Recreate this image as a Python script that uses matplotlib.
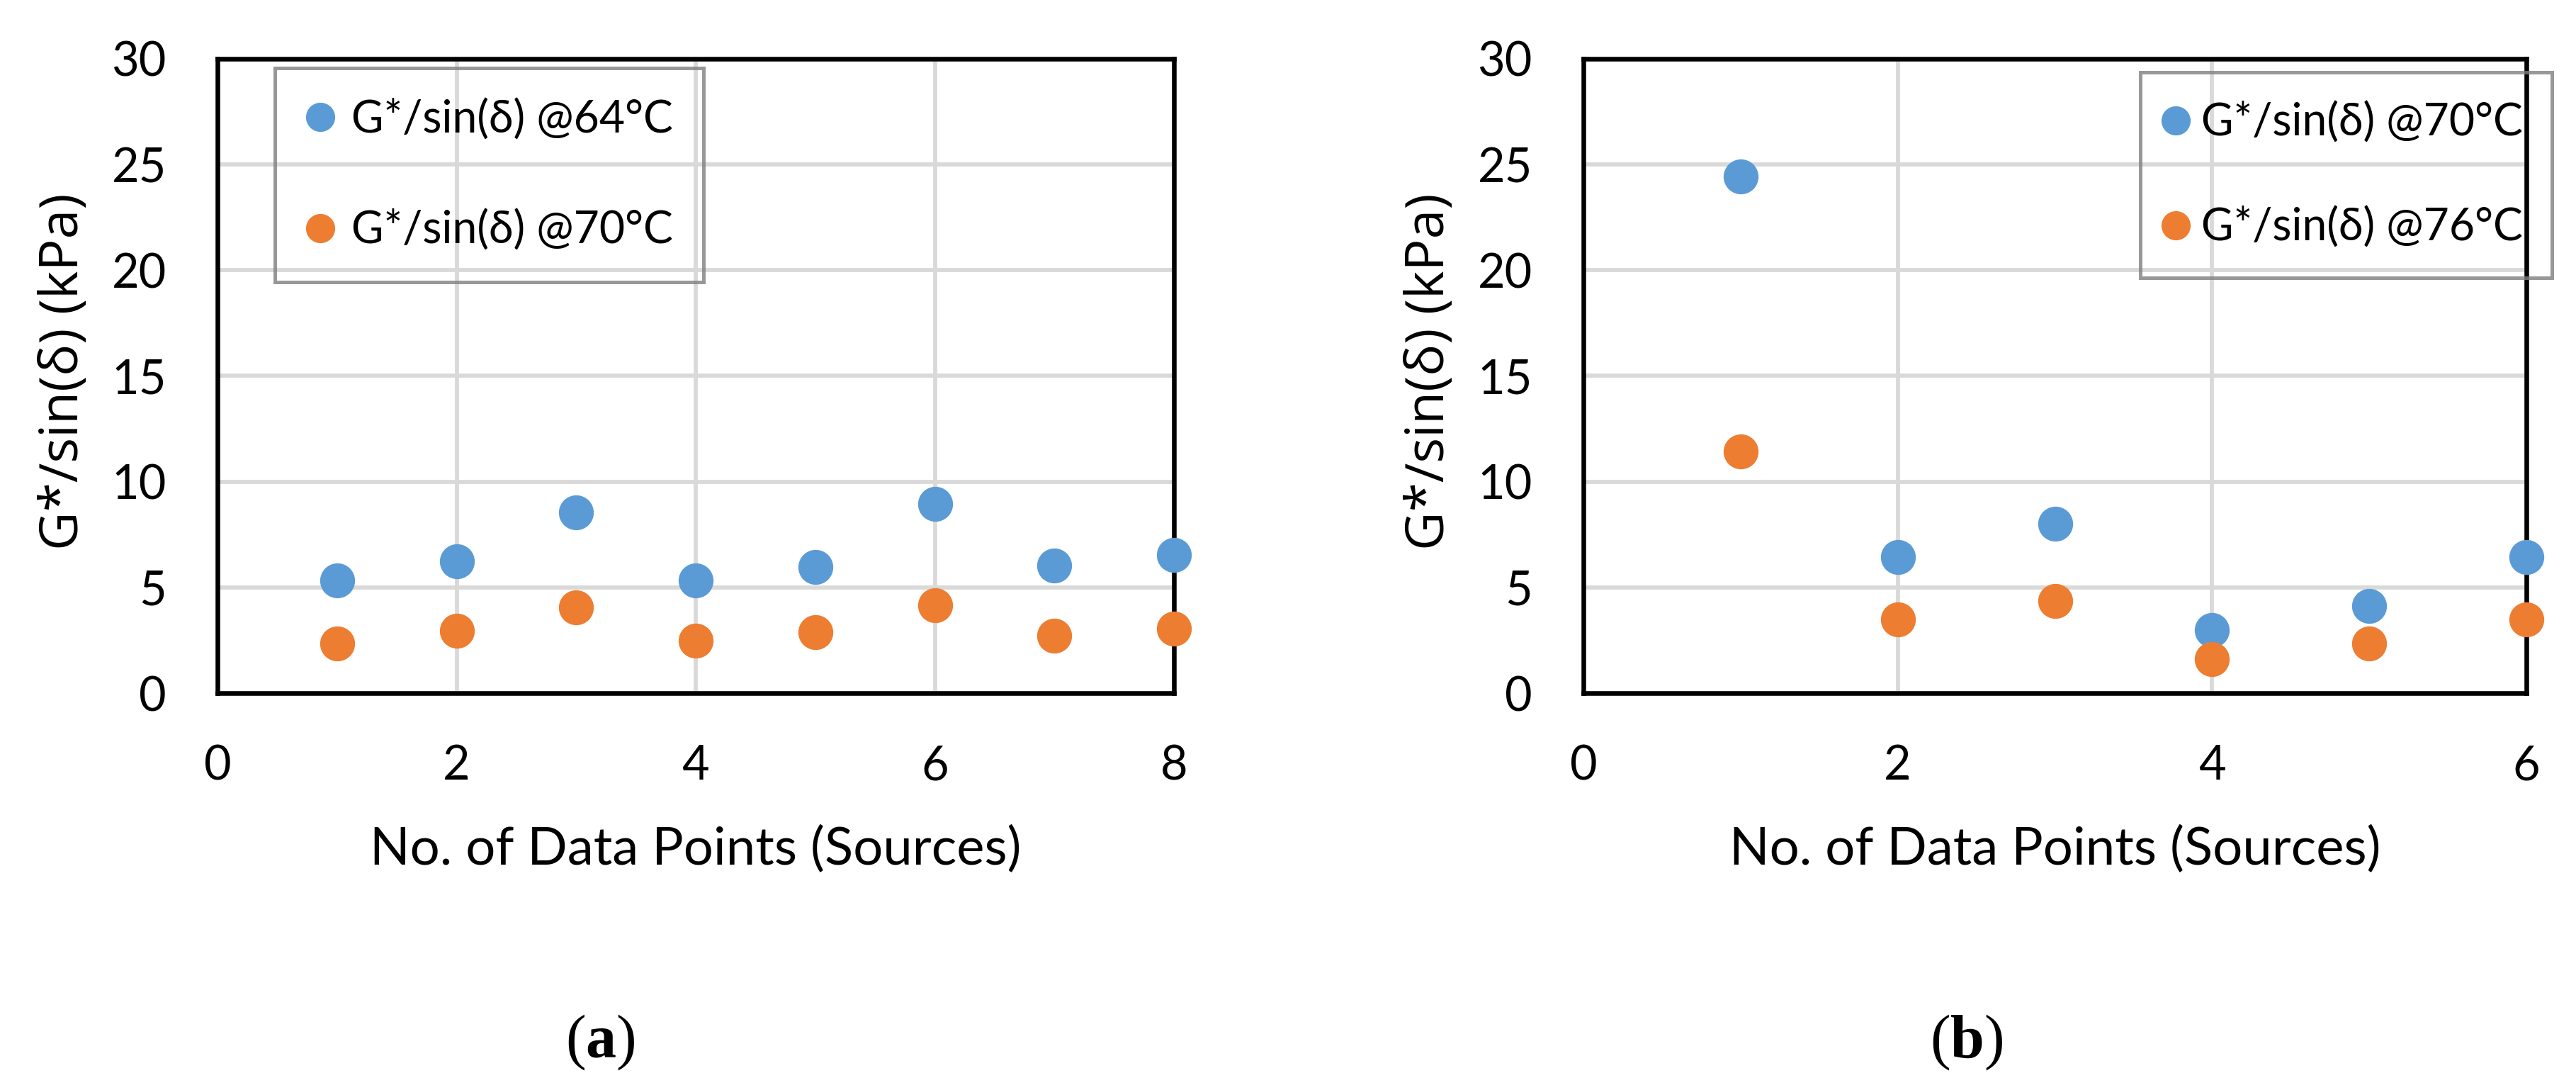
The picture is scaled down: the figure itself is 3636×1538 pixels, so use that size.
import matplotlib
matplotlib.use("Agg")
import matplotlib.pyplot as plt

# ---- data ----
x_a = [1, 2, 3, 4, 5, 6, 7, 8]
a_64 = [5.32, 6.24, 8.56, 5.32, 5.98, 8.94, 6.05, 6.52]
a_70 = [2.35, 2.96, 4.05, 2.47, 2.89, 4.16, 2.73, 3.06]

x_b = [1, 2, 3, 4, 5, 6]
b_70 = [24.42, 6.45, 8.02, 2.99, 4.12, 6.45]
b_76 = [11.44, 3.48, 4.35, 1.60, 2.35, 3.48]

labels_a = ["G*/sin(δ) @64°C", "G*/sin(δ) @70°C"]
labels_b = ["G*/sin(δ) @70°C", "G*/sin(δ) @76°C"]
xticks_a = [0, 2, 4, 6, 8]
xticks_b = [0, 2, 4, 6]
yticks = [0, 5, 10, 15, 20, 25, 30]
xlabel = "No. of Data Points (Sources)"
ylabel = "G*/sin(δ) (kPa)"
panel_a = r"($\mathbf{a}$)"
panel_b = r"($\mathbf{b}$)"

BLUE = "#5B9BD5"
ORANGE = "#ED7D31"
GRID = "#D9D9D9"

plt.rcParams["mathtext.fontset"] = "custom"
plt.rcParams["mathtext.bf"] = "Liberation Serif:bold"
plt.rcParams["mathtext.rm"] = "Liberation Serif"

W, H = 3636, 1538
fig = plt.figure(figsize=(W / 100, H / 100), dpi=100)

TICKFONT = ["Lato", "DejaVu Sans"]
LABFONT = ["Open Sans", "DejaVu Sans"]


def px_axes(l, r, t, b):
    return [l / W, 1 - b / H, (r - l) / W, (b - t) / H]


def setup(ax, x, xt, xmax, s1, s2, labels, legbox, ylab_x, legkw):
    ax.set_xlim(0, xmax)
    ax.set_ylim(0, 30)
    ax.set_xticks(xt)
    ax.set_yticks(yticks)
    ax.grid(True, color=GRID, linewidth=4.2, zorder=0)
    ax.set_axisbelow(True)
    for sp in ax.spines.values():
        sp.set_linewidth(4.7)
        sp.set_color("black")
    ax.tick_params(length=0, pad=52, labelsize=48)
    for lab in ax.get_xticklabels() + ax.get_yticklabels():
        lab.set_fontfamily(TICKFONT)
    ax.plot(x, s1, "o", ls="none", color=BLUE, markersize=34.5,
            clip_on=False, zorder=4, label=labels[0])
    ax.plot(x, s2, "o", ls="none", color=ORANGE, markersize=34.5,
            clip_on=False, zorder=4, label=labels[1])
    ax.set_xlabel(xlabel, fontsize=53.5, family=TICKFONT, va="baseline")
    ax.xaxis.set_label_coords(0.5, -0.271)
    ax.set_ylabel(ylabel, fontsize=54, family=LABFONT, va="center")
    ax.yaxis.set_label_coords(ylab_x, 0.507)
    l, t = legbox
    leg = ax.legend(loc="upper left",
                    bbox_to_anchor=(l / W, 1 - t / H),
                    bbox_transform=fig.transFigure,
                    prop={"family": TICKFONT, "size": 45},
                    frameon=True, fancybox=False, facecolor="none",
                    edgecolor="#7F7F7F", markerscale=0.83,
                    borderaxespad=0, numpoints=1, **legkw)
    leg.get_frame().set_linewidth(3.6)
    leg.set_zorder(5)
    return ax


ax1 = fig.add_axes(px_axes(307, 1657, 83, 978))
setup(ax1, x_a, xticks_a, 8, a_64, a_70, labels_a, (388, 96),
      (91 - 307) / 1350,
      dict(borderpad=0.69, labelspacing=1.56, handlelength=0.66,
           handletextpad=0.38))

ax2 = fig.add_axes(px_axes(2235, 3566, 83, 978))
setup(ax2, x_b, xticks_b, 6, b_70, b_76, labels_b, (3021, 102),
      (2019 - 2235) / 1331,
      dict(borderpad=0.66, labelspacing=1.43, handlelength=0.28,
           handletextpad=0.44))

fig.text(847 / W, 1 - 1471 / H, panel_a, family="Liberation Serif",
         fontsize=62, ha="center", va="center")
fig.text(2776 / W, 1 - 1471 / H, panel_b, family="Liberation Serif",
         fontsize=62, ha="center", va="center")

fig.savefig("out.png", dpi=100, facecolor="white")
